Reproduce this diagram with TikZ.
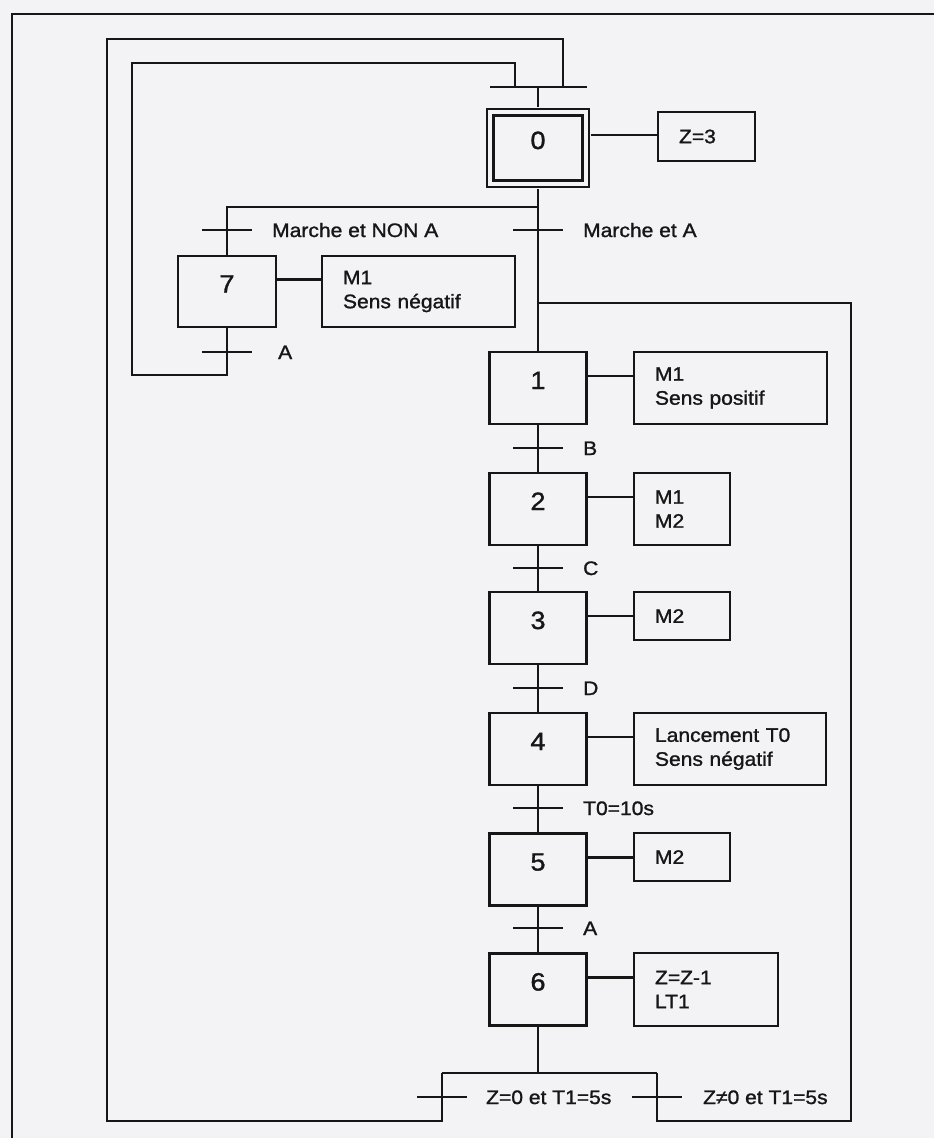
\documentclass[tikz,border=0pt]{standalone}
\usepackage{fontspec}
\setmainfont{Liberation Sans}[FakeStretch=1.08,FakeBold=1.3]
\definecolor{paper}{RGB}{243,243,245}
\definecolor{ink}{RGB}{22,22,22}
\begin{document}
\begin{tikzpicture}[x=1pt,y=-1pt,line width=2.3pt,color=ink,
  stepbox/.style={draw=ink,minimum width=97pt,minimum height=72pt,inner sep=0pt,
    font=\fontsize{25}{25}\selectfont,text height=10pt,text depth=8pt},
  initbox/.style={stepbox,minimum width=95.4pt,minimum height=71.4pt,double=paper,double distance=4pt},
  actbox/.style={draw=ink,inner xsep=21pt,inner ysep=0pt,align=left,
    font=\fontsize{19.5}{24}\selectfont},
  cond/.style={anchor=base west,inner sep=0pt,font=\fontsize{19.5}{24}\selectfont},
  tick/.style={line width=2.3pt}]
\fill[paper] (0,0) rectangle (934,1138);
\useasboundingbox (0,0) rectangle (934,1138);

% page frame
\coordinate (FR) at (934,14);
\coordinate (FC) at (12,14);
\coordinate (FB) at (12,1138);
\draw (FR) -- (FC) -- (FB);

% steps
\node[initbox] (S0) at (538,148) {0};
\node[stepbox,minimum width=98pt,minimum height=71pt] (S7) at (227,291.5) {7};
\node[stepbox] (S1) at (538,388) {1};
\node[stepbox] (S2) at (538,509) {2};
\node[stepbox] (S3) at (538,628) {3};
\node[stepbox] (S4) at (538,749) {4};
\node[stepbox] (S5) at (538,869.5) {5};
\node[stepbox] (S6) at (538,989.5) {6};

% actions
\node[actbox,text width=55pt,minimum height=49pt] (A0) at (706.5,136.5) {Z=3};
\node[actbox,text width=151pt,minimum height=71pt] (A7) at (418.5,291.5) {M1\\Sens négatif};
\node[actbox,text width=151pt,minimum height=72pt] (A1) at (730.5,388) {M1\\Sens positif};
\node[actbox,text width=54pt,minimum height=72pt] (A2) at (682,509) {M1\\M2};
\node[actbox,text width=54pt,minimum height=48pt] (A3) at (682,616) {M2};
\node[actbox,text width=150pt,minimum height=72pt] (A4) at (730,749) {Lancement T0\\Sens négatif};
\node[actbox,text width=54pt,minimum height=48pt] (A5) at (682,857) {M2};
\node[actbox,text width=102pt,minimum height=73pt] (A6) at (706,989.5) {Z=Z-1\\LT1};

% step-action links
\draw ([xshift=4.3pt,yshift=13pt]S0.east) -- ([yshift=13pt]S0.east -| A0.west);
\foreach \s/\a in {S7/A7,S1/A1,S2/A2,S3/A3,S4/A4,S5/A5,S6/A6}
  \draw ([yshift=12pt]\s.east) -- ([yshift=12pt]\s.east -| \a.west);

% junctions and transitions
\coordinate (J0) at (538,87);
\coordinate (J0L) at (490,87);
\coordinate (J0R) at (587,87);
\coordinate (D0) at (538,207);
\coordinate (R1) at (538,303);
\coordinate (D6) at (538,1073);
\coordinate (D6L) at (442,1073);
\coordinate (D6R) at (657,1073);
\coordinate (T07) at (227,230);
\coordinate (T01) at (538,230);
\coordinate (T7) at (227,352);
\coordinate (T12) at (538,448);
\coordinate (T23) at (538,568);
\coordinate (T34) at (538,688);
\coordinate (T45) at (538,808);
\coordinate (T56) at (538,928);
\coordinate (T6L) at (442,1097);
\coordinate (T6R) at (657,1097);
\coordinate (IB) at (132,375);
\coordinate (IT) at (515,63);
\coordinate (OB) at (107,1121);
\coordinate (OT) at (563,39);
\coordinate (RB) at (851,1121);

% main chain
\draw (J0L) -- (J0R);
\draw (J0) -- ([yshift=4.3pt]S0.north);
\draw ([yshift=-4.3pt]S0.south) -- (S1.north);
\draw (D0) -| (S7.north);
\draw (S1.south) -- (S2.north);
\draw (S2.south) -- (S3.north);
\draw (S3.south) -- (S4.north);
\draw (S4.south) -- (S5.north);
\draw (S5.south) -- (S6.north);
\draw (S6.south) -- (D6);
\draw (D6L) -- (D6R);

% loops
\draw (S7.south) |- (IB) |- (IT) -- (IT |- J0);
\draw (D6L) |- (OB) |- (OT) -- (OT |- J0);
\draw (D6R) |- (RB) |- (R1);

% transition ticks
\foreach \t in {T07,T01,T7,T12,T23,T34,T45,T56,T6L,T6R}
  \draw[tick] ([xshift=-25pt]\t) -- ([xshift=25pt]\t);

% receptivities
\node[cond] (C07) at ([xshift=44pt,yshift=-7pt]T07) {Marche et NON A};
\node[cond] (C01) at ([xshift=44pt,yshift=-7pt]T01) {Marche et A};
\node[cond] (C7) at ([xshift=50pt,yshift=-7pt]T7) {A};
\node[cond] (C12) at ([xshift=44pt,yshift=-7pt]T12) {B};
\node[cond] (C23) at ([xshift=44pt,yshift=-7pt]T23) {C};
\node[cond] (C34) at ([xshift=44pt,yshift=-7pt]T34) {D};
\node[cond] (C45) at ([xshift=44pt,yshift=-7pt]T45) {T0=10s};
\node[cond] (C56) at ([xshift=44pt,yshift=-7pt]T56) {A};
\node[cond] (C6L) at ([xshift=43pt,yshift=-7pt]T6L) {Z=0 et T1=5s};
\node[cond] (C6R) at ([xshift=45pt,yshift=-7pt]T6R) {Z≠0 et T1=5s};
\end{tikzpicture}
\end{document}
